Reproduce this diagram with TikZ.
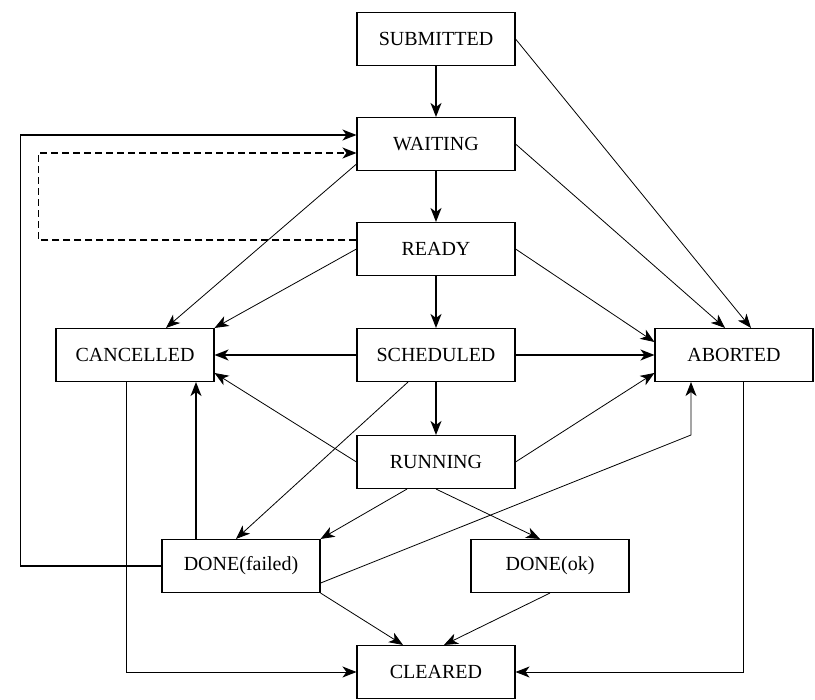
\documentclass[tikz,border=0pt]{standalone}
\usepackage{fontspec}
\setmainfont{Liberation Serif}
\usetikzlibrary{arrows.meta, positioning}

\begin{document}
\begin{tikzpicture}[x=1pt, y=-1pt]
    \tikzstyle{state} = [rectangle, minimum width=158pt, minimum height=53pt, text centered, draw=black, line width=1.1pt, fill=white, font=\fontsize{20}{24}\selectfont]
    \tikzstyle{arrow} = [line width=0.8pt, -{Stealth[length=14pt, width=11pt, inset=4pt]}]
    \tikzstyle{thickarrow} = [arrow, line width=1.5pt]

    \useasboundingbox (0,0) rectangle (815,700);

    \node (submitted) [state] at (436,39) {SUBMITTED};
    \node (waiting) [state] at (436,144) {WAITING};
    \node (ready) [state] at (436,249) {READY};
    \node (scheduled) [state] at (436,355) {SCHEDULED};
    \node (cancelled) [state] at (135,355) {CANCELLED};
    \node (aborted) [state] at (734,355) {ABORTED};
    \node (running) [state] at (436,462) {RUNNING};
    \node (failed) [state] at (241,566) {DONE(failed)};
    \node (ok) [state] at (550,566) {DONE(ok)};
    \node (cleared) [state] at (436,672) {CLEARED};

    % main line
    \draw [thickarrow] (submitted) -- (waiting);
    \draw [thickarrow] (waiting) -- (ready);
    \draw [thickarrow] (ready) -- (scheduled);
    \draw [thickarrow] (scheduled) -- (running);

    % to ABORTED
    \draw [arrow] (submitted.east) -- ([xshift=17pt]aborted.north);
    \draw [arrow] (waiting.east) -- ([xshift=-9pt]aborted.north);
    \draw [arrow] (ready.east) -- ([yshift=13pt]aborted.west);
    \draw [thickarrow] (scheduled) -- (aborted);
    \draw [arrow] (running.east) -- ([yshift=-18pt]aborted.west);
    \draw [arrow] ([yshift=10pt]failed.south east) -- (691,435) -- ([xshift=-43pt]aborted.south);

    % to CANCELLED
    \draw [arrow] ([yshift=7pt]waiting.south west) -- ([xshift=31pt]cancelled.north);
    \draw [arrow] (ready.west) -- (cancelled.north east);
    \draw [thickarrow] (scheduled) -- (cancelled);
    \draw [arrow] (running.west) -- ([yshift=-18pt]cancelled.east);
    \draw [thickarrow] ([xshift=-45pt]failed.north) -- ([xshift=-45pt]failed.north |- cancelled.south);

    % to DONE
    \draw [arrow] ([xshift=-28pt]scheduled.south) -- ([xshift=-5pt]failed.north);
    \draw [arrow] ([xshift=-29pt]running.south) -- (failed.north east);
    \draw [arrow] (running.south) -- ([xshift=-10pt]ok.north);

    % to CLEARED
    \draw [arrow] (failed.south east) -- ([xshift=-33pt]cleared.north);
    \draw [arrow] (ok.south) -- ([xshift=8pt]cleared.north);
    \draw [arrow] ([xshift=-9pt]cancelled.south) |- (cleared.west);
    \draw [arrow] ([xshift=9pt]aborted.south) |- (cleared.east);

    % back to WAITING
    \draw [arrow, line width=1.1pt] (failed.west) -- ++(-141,0) |- ([yshift=9pt]waiting.west);
    \draw [arrow, line width=1.1pt, dash pattern=on 7pt off 4pt] ([yshift=9pt]ready.west) -- ++(-318,0) |- ([yshift=-9pt]waiting.west);
\end{tikzpicture}
\end{document}
